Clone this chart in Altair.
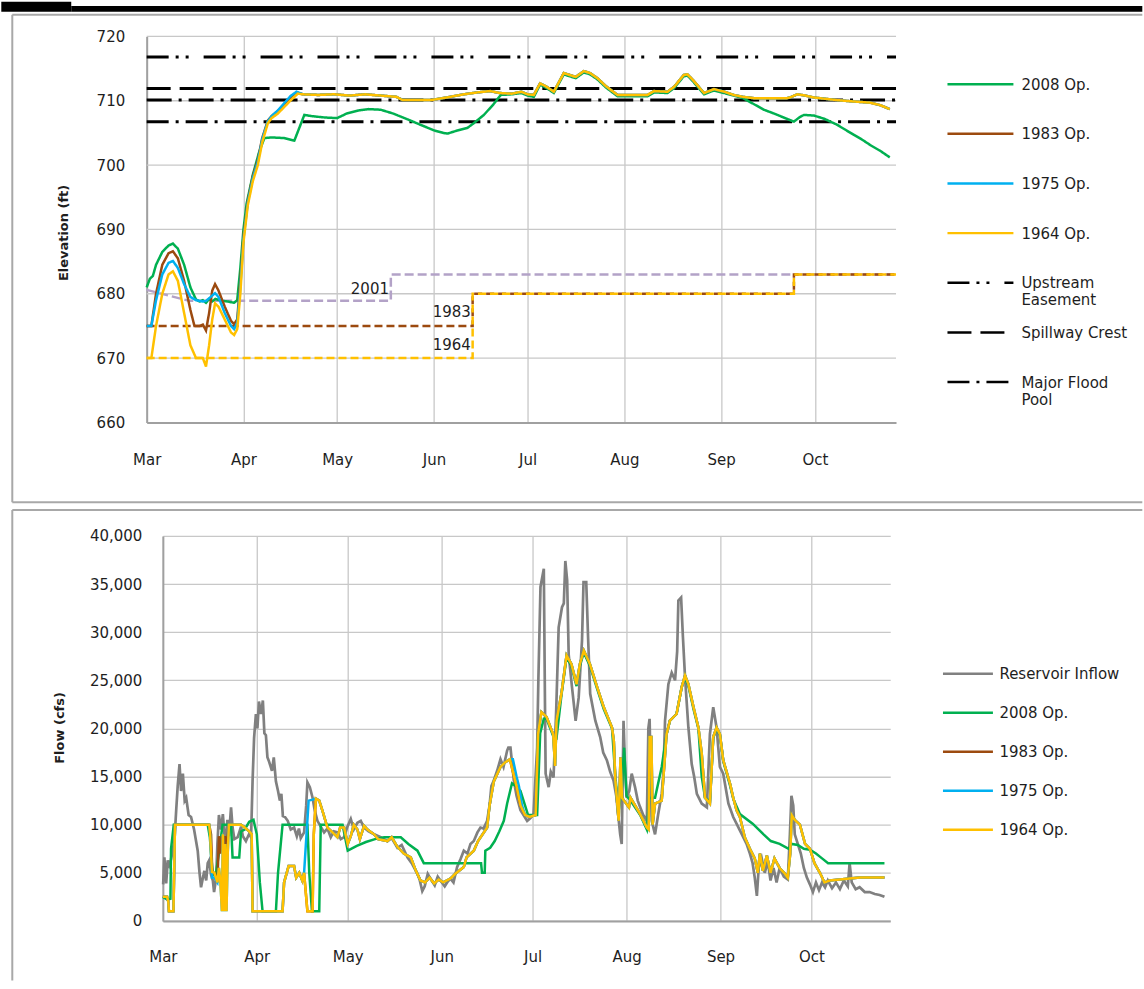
import json
import altair as alt
import pandas as pd

FONT = "DejaVu Sans"
TEXT = "#1e1e1e"
GRID = "#c8c8c8"
DOMAIN = "#a0a0a0"
BOX = "#a8a8a8"

MONTH_DAYS = [0, 31, 61, 92, 122, 153, 184, 214]
MONTH_NAMES = ["Mar", "Apr", "May", "Jun", "Jul", "Aug", "Sep", "Oct"]
DAY_DOMAIN = [0, 240]
ELEV_TICKS = [660, 670, 680, 690, 700, 710, 720]
FLOW_TICKS = [0, 5000, 10000, 15000, 20000, 25000, 30000, 35000, 40000]

# ---------------- top panel: elevation ----------------
TOP_SERIES = ["2008 Op.", "1983 Op.", "1975 Op.", "1964 Op.",
              "Upstream Easement", "Spillway Crest", "Major Flood Pool"]
TOP_COLORS = ["#00b050", "#9c4a0f", "#00b0f0", "#ffc000", "#000000", "#000000", "#000000"]
TOP_DASHES = [[1, 0], [1, 0], [1, 0], [1, 0], [22, 7, 3, 7, 3, 15], [24, 9], [22, 7, 3, 7]]
REF_LEVELS = [("Upstream Easement", 716.8), ("Spillway Crest", 711.9), ("Major Flood Pool", 706.75)]
EXTRA_LEVEL = 710.1

ELEV_2008 = [(0, 681.0), (1, 682.3), (2, 682.8), (3, 684.5), (5, 686.5), (7, 687.5), (8.4, 687.8),
             (10, 687.0), (12, 684.5), (14, 681.0), (15.8, 679.1), (17, 678.8), (18, 679.0), (19, 678.6),
             (20, 679.2), (21, 678.8), (22, 679.2), (24, 678.9), (26, 678.8), (28, 678.6), (29, 679.0),
             (30, 684.0), (31, 690.0), (32, 694.0), (34, 698.5), (36, 702.0), (37.7, 704.2), (40, 704.3),
             (44, 704.2), (47.3, 703.8), (50.5, 707.8), (53, 707.6), (57, 707.4), (61, 707.3), (64, 708.0),
             (68, 708.5), (71, 708.7), (75, 708.6), (79, 708.0), (83.6, 707.1), (88, 706.2), (92, 705.4),
             (95, 705.0), (96.4, 704.9), (99, 705.3), (102.8, 705.8), (105, 706.6), (108, 707.8),
             (111, 709.4), (113.4, 710.9), (117, 711.0), (120, 711.2), (122, 710.8), (124, 710.6),
             (126, 712.5), (128, 712.0), (130.4, 711.2), (133.6, 714.1), (135.5, 713.8), (137.4, 713.5),
             (140, 714.4), (142, 714.1), (144.4, 713.3), (147, 712.1), (150.8, 710.7), (155, 710.7),
             (160.4, 710.7), (162.5, 711.3), (166.8, 711.2), (169, 712.0), (172, 713.8), (173.2, 713.9),
             (175, 713.0), (178.5, 711.0), (181.7, 711.6), (185, 711.2), (188, 710.8), (191, 710.4),
             (194, 709.6), (197.7, 708.6), (201, 708.0), (204, 707.4), (207.3, 706.75), (209, 707.4),
             (210.5, 707.8), (213.7, 707.7), (217, 707.2), (221, 706.3), (226.5, 704.7), (229, 704.0),
             (231.8, 703.1), (235, 702.2), (238, 701.2)]

ELEV_1964 = [(0, 670), (1.5, 670), (3, 675), (5, 680), (7, 683), (8.4, 683.5), (10, 682), (12, 677),
             (14, 672), (15.8, 670), (18, 670), (19, 668.7), (20, 672), (21, 676), (21.9, 678.5),
             (23, 678), (25, 676), (27, 674), (28, 673.6), (29, 674.5), (30, 680), (31, 688),
             (32.4, 693.8), (34, 697.5), (35.6, 700), (37, 703.5), (38.8, 706.5), (40, 707.3), (42, 708),
             (44, 709), (46, 710), (48.4, 711.1), (50, 711), (55, 710.9), (60, 711), (65, 710.8),
             (70, 711), (75, 710.8), (80, 710.6), (82, 710.1), (91, 710.1), (96, 710.5), (101.6, 711),
             (106, 711.3), (110, 711.5), (113, 711.2), (117, 711.1), (120, 711.4), (122, 711),
             (124, 710.9), (126, 712.7), (128, 712.2), (130.4, 711.4), (133.6, 714.3), (135.5, 714),
             (137.4, 713.7), (140, 714.6), (142, 714.3), (144.4, 713.5), (147, 712.3), (150.8, 710.9),
             (155, 710.9), (160.4, 710.9), (162.5, 711.5), (166.8, 711.4), (169, 712.2), (172, 714),
             (173.2, 714.1), (175, 713.2), (178.5, 711.2), (181.7, 711.8), (185, 711.4), (188, 710.9),
             (191, 710.6), (194.5, 710.4), (205, 710.4), (206, 710.5), (208.4, 711), (211, 710.8),
             (213.7, 710.5), (221, 710.1), (226, 709.9), (231.8, 709.7), (235, 709.3), (238, 708.7)]

ELEV_1983_EARLY = [(0, 675), (1.5, 675), (3, 680), (5, 684.5), (7, 686.3), (8.4, 686.6), (10, 685.5),
                   (12, 682), (14, 677.5), (15.3, 675), (17, 675), (18, 675.2), (19, 674.3), (20, 677),
                   (21, 680.5), (21.9, 681.5), (23, 680.5), (25, 678), (27, 675.8), (28, 675.3),
                   (29, 676), (30, 682), (31, 689), (32.4, 694.5), (34, 698.3), (35.6, 700.8), (37, 704.2),
                   (38.8, 706.9), (40, 707.6), (42, 708.4), (44, 709.4), (46, 710.5), (48, 711.3)]

ELEV_1975_EARLY = [(0, 675), (1.5, 675), (3, 679), (5, 683), (7, 684.8), (8.4, 685.1), (10, 684),
                   (12, 681.5), (14, 679.5), (15.8, 679), (18, 678.8), (19, 678.9), (20, 679.3),
                   (21.9, 680.1), (23, 679.5), (25, 677), (27, 675), (28, 674.5), (29, 675.5), (30, 681),
                   (31, 688.5), (32.4, 694.2), (34, 698), (35.6, 700.5), (37, 704), (38.8, 706.8),
                   (40, 707.6), (42, 708.5), (44, 709.6), (46, 710.7), (48, 711.4)]

# the 1983 and 1975 runs lie under the 1964 run from mid April on
ELEV_1983 = ELEV_1983_EARLY + [p for p in ELEV_1964 if p[0] >= 50]
ELEV_1975 = ELEV_1975_EARLY + [p for p in ELEV_1964 if p[0] >= 50]

GUIDE_2001 = [(0, 680.6), (13.6, 678.9), (78.2, 678.9), (78.2, 683.0), (240, 683.0)]
GUIDE_1983 = [(0, 675), (104.4, 675), (104.4, 680), (207.3, 680), (207.3, 683), (240, 683)]
GUIDE_1964 = [(0, 670), (104.4, 670), (104.4, 680), (207.3, 680), (207.3, 683), (240, 683)]
GUIDE_LABELS = [("2001", 77.6, 680.8), ("1983", 103.8, 677.1), ("1964", 103.8, 672.0)]

# ---------------- bottom panel: flow ----------------
BOT_SERIES = ["Reservoir Inflow", "2008 Op.", "1983 Op.", "1975 Op.", "1964 Op."]
BOT_COLORS = ["#808080", "#00b050", "#9c4a0f", "#00b0f0", "#ffc000"]

FLOW_INFLOW = [(0.1, 3800), (0.5, 6600), (1.1, 3900), (1.6, 6300), (2.1, 5800), (2.7, 6400), (3.8, 8300),
               (4.4, 11500), (4.9, 14000), (5.5, 16300), (6.0, 13500), (6.6, 15300), (7.2, 12500),
               (7.7, 12800), (8.5, 11000), (9.3, 10800), (10.3, 9500), (11.5, 7300), (12.1, 5000),
               (12.6, 3500), (13.1, 4300), (13.7, 5200), (14.3, 4200), (14.8, 6000), (15.3, 6300),
               (15.9, 4800), (16.5, 4200), (16.9, 3000), (17.6, 4500), (18.0, 8000), (18.5, 11000),
               (19.2, 9500), (19.8, 11100), (20.3, 9000), (20.8, 8300), (21.3, 10500), (21.8, 8800),
               (22.5, 11800), (23.0, 9700), (23.6, 8500), (24.7, 8700), (25.8, 9800), (26.4, 8800),
               (27.4, 8300), (28.4, 9000), (29.1, 8700), (29.6, 14500), (30.1, 19000), (30.7, 21500),
               (31.2, 20000), (31.7, 22800), (32.4, 21500), (33.0, 22900), (33.5, 19500), (34.0, 19300),
               (34.5, 17000), (35.0, 16600), (36.0, 15600), (36.6, 17000), (37.3, 14500), (38.0, 13500),
               (38.6, 12500), (39.1, 13200), (39.6, 10900), (40.3, 10800), (41.2, 10400), (42.2, 9500),
               (43.3, 9700), (44.2, 8800), (44.9, 9600), (45.5, 8600), (46.6, 9200), (47.3, 12000),
               (47.7, 14400), (48.5, 13900), (49.4, 12800), (50.1, 11500), (51.0, 10400), (52.1, 9800),
               (53.2, 9200), (54.3, 9600), (55.4, 8700), (56.4, 9300), (57.6, 9200), (58.7, 8500),
               (59.8, 8700), (60.9, 9800), (62.0, 10600), (63.0, 9500), (64.2, 10200), (65.3, 10400),
               (66.4, 9700), (67.9, 9300), (69.7, 9000), (71.9, 8700), (74.1, 8300), (75.5, 8600),
               (77.4, 7600), (78.8, 7900), (80.7, 6600), (82.1, 6000), (84.0, 4900), (84.7, 4300),
               (85.6, 3100), (86.4, 3600), (87.4, 4900), (88.3, 4400), (89.7, 3700), (90.7, 4600),
               (91.6, 4200), (93.0, 3600), (94.0, 4100), (94.9, 4400), (95.9, 4000), (97.1, 5600),
               (98.2, 6400), (99.3, 7300), (100.5, 7000), (101.5, 8000), (102.6, 8300), (103.8, 9200),
               (104.8, 9700), (105.8, 9600), (107.0, 10400), (107.8, 12000), (108.4, 14000),
               (109.2, 14600), (110.3, 15600), (111.4, 16800), (112.4, 16000), (113.6, 17700),
               (114.0, 18000), (114.7, 18000), (115.8, 14600), (116.7, 13000), (118.0, 11500),
               (119.0, 11000), (120.2, 10400), (121.3, 10700), (122.3, 11100), (123.5, 18000),
               (123.9, 25000), (124.6, 34700), (125.7, 36600), (126.1, 22000), (126.3, 15300),
               (127.3, 13900), (128.0, 15500), (128.9, 14900), (129.8, 22000), (130.6, 30500),
               (131.7, 32600), (132.3, 33000), (132.8, 37400), (133.4, 35400), (133.9, 27700),
               (135.0, 24300), (136.2, 20800), (137.2, 23200), (138.3, 29100), (138.8, 35200),
               (139.7, 35200), (140.3, 29500), (141.0, 23600), (142.7, 20800), (144.3, 19100),
               (145.3, 17500), (146.5, 16700), (147.6, 15500), (148.7, 14600), (149.6, 13000),
               (150.3, 10800), (150.9, 9000), (151.4, 8000), (152.0, 20800), (152.5, 16000),
               (153.0, 12800), (153.9, 13500), (154.7, 15300), (155.8, 13900), (156.7, 12500),
               (157.5, 11800), (158.5, 11000), (159.7, 10400), (160.2, 20000), (160.6, 21000),
               (161.3, 10400), (162.4, 9000), (163.4, 11000), (164.6, 13200), (165.2, 15500),
               (165.7, 20800), (166.8, 24600), (167.9, 25800), (169.0, 25000), (169.7, 28000),
               (170.1, 33300), (171.0, 33600), (171.6, 29500), (172.3, 25300), (173.4, 20100),
               (174.5, 16300), (175.3, 15000), (176.2, 13200), (177.8, 12200), (179.5, 11800),
               (180.5, 19400), (181.6, 22200), (182.7, 20100), (183.8, 16000), (184.9, 15300),
               (186.6, 12200), (188.2, 10800), (190.4, 9400), (192.6, 8000), (193.7, 7000), (194.6, 6000),
               (195.3, 4500), (196.0, 2600), (196.6, 5500), (197.6, 6500), (198.6, 5000), (199.6, 6200),
               (200.5, 4200), (201.5, 5500), (202.5, 4000), (203.5, 5500), (204.9, 4600), (206.2, 4300),
               (206.9, 9000), (207.4, 13000), (208.0, 12000), (208.5, 9000), (209.5, 8000), (210.5, 7000),
               (211.5, 5500), (212.5, 4500), (213.5, 3800), (214.5, 3000), (215.5, 4000), (216.5, 3200),
               (217.5, 4000), (218.5, 3500), (219.4, 4200), (220.8, 3400), (222.1, 4000), (223.4, 3300),
               (224.7, 4200), (226.0, 3600), (226.6, 6000), (227.3, 4000), (228.6, 3300), (229.9, 3500),
               (231.6, 3000), (233.2, 3000), (234.9, 2800), (236.5, 2700), (238.1, 2500)]

FLOW_2008 = [(0, 2500), (1.5, 2200), (2.5, 2300), (2.7, 7500), (3.6, 10000), (14.8, 10000), (15.5, 8700),
             (16.0, 6600), (16.5, 4800), (17.5, 4900), (18.5, 7000), (19.7, 10000), (22.5, 10000),
             (23.0, 6600), (25.2, 6600), (25.8, 9300), (27, 9500), (28.5, 10300), (29.9, 10500),
             (31, 9000), (32.0, 4000), (32.9, 1000), (37.3, 1000), (38, 5000), (39.5, 10000),
             (47.7, 10000), (48.3, 5000), (49.2, 1000), (51.6, 1000), (52.1, 10000), (59.3, 10000),
             (61.0, 7300), (64, 7800), (67, 8200), (70, 8500), (73, 8700), (78.5, 8700), (81, 8000),
             (84, 7300), (86.1, 6000), (105, 6000), (105.3, 5000), (106.2, 5000), (106.4, 7300),
             (108, 7600), (109.5, 8300), (111, 9300), (112.5, 10400), (113.6, 12200), (115.2, 14300),
             (116.5, 14000), (118, 13500), (119.5, 12000), (120.5, 11000), (123.5, 11000),
             (124.5, 19500), (125.7, 21000), (126.6, 21000), (128.8, 19200), (129.9, 19000),
             (131.5, 23400), (133.2, 27400), (134.8, 26500), (136.5, 24400), (137.6, 26500),
             (138.9, 27900), (140.9, 26500), (143.3, 24100), (145.5, 22000), (148.2, 20000),
             (149.3, 15000), (150.4, 11500), (151.5, 14000), (152.2, 18000), (153.0, 13000),
             (154.3, 12500), (157.5, 11000), (159.7, 9500), (160.5, 12800), (162.4, 12800),
             (164.6, 16000), (166.2, 19400), (167.3, 20800), (169.5, 21500), (171.2, 24300),
             (172.3, 25300), (173.4, 24400), (175.1, 22000), (176.7, 20000), (177.8, 15000),
             (178.9, 12800), (180.5, 12400), (181.6, 19000), (182.7, 20000), (183.8, 19300),
             (184.9, 16600), (187.2, 14000), (188.2, 12700), (190.4, 11100), (194.6, 10100),
             (198.2, 9000), (200.6, 8300), (203.5, 8000), (206.5, 7500), (207.5, 8000), (209.5, 7900),
             (211.5, 7500), (213.5, 7400), (215.5, 7000), (217.5, 6500), (219.5, 6000), (238.1, 6000)]

FLOW_1964 = [(0, 2500), (1.4, 2500), (1.8, 2000), (2.0, 1000), (3.5, 1000), (4.0, 10000), (15.3, 10000),
             (15.6, 9000), (16.2, 5100), (17.0, 5000), (18.0, 4000), (18.5, 5500), (19.0, 4000),
             (19.5, 1000), (19.8, 9000), (20.2, 1000), (20.6, 8000), (21.0, 1000), (21.4, 7000),
             (21.8, 10000), (25.8, 10000), (27, 9700), (28.5, 9300), (29.3, 9000), (29.6, 1000),
             (39.5, 1000), (40.0, 4000), (41.5, 5700), (43.3, 5700), (44, 4500), (45, 5000), (46, 4200),
             (46.6, 5000), (47.7, 1000), (49.4, 1000), (49.8, 9000), (50.5, 12700), (51.6, 12500),
             (52.7, 11400), (54.3, 9700), (56, 9200), (57.6, 8700), (58.5, 9700), (59.8, 9700),
             (61.0, 8000), (62, 8800), (63, 10000), (64.2, 9500), (65, 8500), (66.4, 9900), (67.5, 9500),
             (69.7, 9000), (71, 8500), (74.1, 8300), (75.5, 8700), (77.4, 7700), (79.5, 7000),
             (81.8, 6600), (83.5, 5200), (85.0, 4200), (86.5, 4000), (88, 4500), (89.5, 3900),
             (91, 4300), (92.5, 4000), (94.9, 4400), (96.5, 4900), (99.3, 5600), (100.2, 6600),
             (102.6, 7300), (104, 8300), (107, 9700), (107.8, 12000), (109.2, 14500), (111.4, 16000),
             (113, 16500), (114.5, 16800), (115.5, 15500), (116.7, 14000), (118.0, 12000),
             (119.5, 11000), (121, 10800), (123.0, 11000), (123.8, 19400), (124.9, 21700),
             (126.6, 21200), (128.8, 19400), (129.4, 16100), (129.9, 20800), (131.5, 23600),
             (133.2, 27600), (134.8, 26700), (136.5, 24600), (137.6, 26700), (138.9, 28100),
             (140.9, 26700), (143.3, 24300), (145.5, 22200), (148.2, 20100), (148.8, 18700),
             (149.3, 14600), (150.4, 10400), (151.0, 17000), (151.5, 12800), (153.8, 11800),
             (154.3, 12800), (157.5, 11100), (159.7, 9700), (160.3, 9500), (160.6, 19100),
             (161.2, 19100), (161.6, 10000), (162.4, 12200), (164.6, 12500), (166.2, 19400),
             (167.3, 20800), (169.5, 21500), (171.2, 24300), (172.3, 25500), (173.4, 24600),
             (175.1, 22200), (176.7, 20100), (177.8, 17400), (178.9, 12800), (180.5, 12200),
             (181.6, 19100), (182.7, 20100), (183.8, 19400), (184.9, 16700), (187.2, 14200),
             (188.2, 12800), (189.3, 11500), (190.4, 10800), (192.0, 8700), (193.7, 7500),
             (195.3, 6500), (196.3, 5000), (197.0, 7000), (198.0, 5200), (199.3, 6800), (200.5, 5000),
             (201.8, 6500), (203.5, 5500), (205.0, 5000), (206.2, 4500), (207.0, 7000), (207.5, 11000),
             (208.5, 10500), (210.2, 10000), (211.9, 8000), (213.5, 7500), (215.0, 6000), (216.8, 5000),
             (218.3, 4000), (220, 4200), (223.4, 4300), (226.6, 4400), (230, 4500), (238.1, 4500)]

FLOW_1983_EARLY = [(0, 2500), (1.4, 2500), (1.8, 2000), (2.0, 1000), (3.5, 1000), (4.0, 10000),
                   (15.3, 10000), (15.9, 9000), (16.3, 5100), (17.0, 5000), (18.0, 4000), (18.5, 8800),
                   (19.0, 7000), (19.5, 8800), (20.0, 7000), (20.5, 8800), (21.0, 7000), (21.4, 8800),
                   (21.8, 10000), (25.8, 10000), (26.8, 9800)]
FLOW_1975_MID1 = [(16.2, 4500), (17.0, 4500)]
FLOW_1975_MID2 = [(47.4, 9000), (48.1, 12500), (49.4, 12600)]
FLOW_1975_MID3 = [(114.5, 16800), (115.5, 16800), (116.7, 15000), (117.5, 14000), (118.5, 12000)]

# the 1983 and 1975 runs coincide with the 1964 run wherever they are not visible
FLOW_1983 = FLOW_1983_EARLY + [p for p in FLOW_1964 if p[0] >= 27]
FLOW_1975 = ([p for p in FLOW_1964 if p[0] < 16.2] + FLOW_1975_MID1
             + [p for p in FLOW_1964 if 18.0 <= p[0] <= 46.6] + FLOW_1975_MID2
             + [p for p in FLOW_1964 if 50.5 <= p[0] < 114.5] + FLOW_1975_MID3
             + [p for p in FLOW_1964 if p[0] >= 119.5])


def frame(pairs, name=None):
    df = pd.DataFrame(pairs, columns=["day", "value"])
    if name is not None:
        df["series"] = name
    return df


MONTH_EXPR = f"{json.dumps(MONTH_NAMES)}[indexof({json.dumps(MONTH_DAYS)}, datum.value)]"
ONE = pd.DataFrame({"k": [0]})


def x_axis(pad):
    return alt.Axis(values=MONTH_DAYS, labelExpr=MONTH_EXPR, title=None, grid=True,
                    labelPadding=pad, labelFlush=False, ticks=False, tickSize=0,
                    domainColor=DOMAIN, domainWidth=2)


# Both panels share one group origin (the concat aligns them); the top panel's plot
# starts SHIFT px further left, handled with its x range and a y-axis offset.
OX, OY1 = 161.7, 34.7          # common origin (page x) and top-panel origin (page y)
SHIFT = 16.2
W1, H1 = 733.8, 386.4

top_x = alt.X("day:Q", scale=alt.Scale(domain=DAY_DOMAIN, nice=False, zero=False, range=[-SHIFT, W1]),
              axis=x_axis(30))
top_y = alt.Y("value:Q", scale=alt.Scale(domain=[660, 720], nice=False, zero=False),
              axis=alt.Axis(values=ELEV_TICKS, title="Elevation (ft)", titleAngle=270,
                            titleX=-83.5, titleY=H1 / 2 + 3, titleBaseline="middle",
                            titleAlign="center", labelPadding=22, grid=False, ticks=False,
                            tickSize=0, domainColor=DOMAIN, domainWidth=2, labelFlush=False,
                            offset=SHIFT))

TOP_LABEL_EXPR = ("datum.label == 'Upstream Easement' ? ['Upstream', 'Easement'] : "
                  "datum.label == 'Major Flood Pool' ? ['Major Flood', 'Pool'] : [datum.label, '']")
top_legend = alt.Legend(title=None, orient="none", legendX=789.3, legendY=24.3,
                        symbolType="M-1.2,-0.2L1.2,-0.2", symbolSize=3025, symbolStrokeWidth=2.5,
                        labelOffset=12, labelBaseline="alphabetic", labelExpr=TOP_LABEL_EXPR,
                        rowPadding=0.7, labelLimit=220, padding=0)
top_color = alt.Color("series:N", scale=alt.Scale(domain=TOP_SERIES, range=TOP_COLORS), legend=top_legend)
top_dash = alt.StrokeDash("series:N", scale=alt.Scale(domain=TOP_SERIES, range=TOP_DASHES), legend=top_legend)

top_layers = []
# horizontal gridlines of the top panel
grid_df = pd.DataFrame({"value": ELEV_TICKS[1:]})
top_layers.append(alt.Chart(grid_df).mark_rule(color=GRID, strokeWidth=1.3).encode(
    y=top_y, x=alt.value(-SHIFT), x2=alt.value(W1)))

for pairs, col, dash in [(GUIDE_2001, "#b3a2c7", [9, 4]), (GUIDE_1983, "#9c4a0f", [8, 4]),
                         (GUIDE_1964, "#ffc000", [8, 4])]:
    top_layers.append(alt.Chart(frame(pairs)).mark_line(strokeWidth=2.5).encode(
        x=top_x, y=top_y, color=alt.value(col), strokeDash=alt.value(dash)))

top_layers.append(alt.Chart(frame([(0, EXTRA_LEVEL), (240, EXTRA_LEVEL)])).mark_line(strokeWidth=3).encode(
    x=top_x, y=top_y, color=alt.value("#000000"), strokeDash=alt.value([25, 7, 3, 7])))

ref_df = pd.concat([frame([(0, v), (240, v)], n) for n, v in REF_LEVELS])
top_layers.append(alt.Chart(ref_df).mark_line(strokeWidth=3).encode(
    x=top_x, y=top_y, color=top_color, strokeDash=top_dash, detail="series:N"))

for name, pairs in [("2008 Op.", ELEV_2008), ("1983 Op.", ELEV_1983),
                    ("1975 Op.", ELEV_1975), ("1964 Op.", ELEV_1964)]:
    top_layers.append(alt.Chart(frame(pairs, name)).mark_line(strokeWidth=2.5).encode(
        x=top_x, y=top_y, color=top_color, strokeDash=top_dash))

lab_df = pd.DataFrame(GUIDE_LABELS, columns=["text", "day", "value"])
top_layers.append(alt.Chart(lab_df).mark_text(align="right", baseline="middle", font=FONT,
                                              fontSize=15, color=TEXT).encode(
    x=top_x, y=top_y, text="text:N"))

# frame decorations of the top panel (pixel offsets from the group origin)
top_layers.append(alt.Chart(ONE).mark_rect(color="#000000").encode(
    x=alt.value(-OX), x2=alt.value(-OX + 70), y=alt.value(-OY1), y2=alt.value(-OY1 + 10)))
top_layers.append(alt.Chart(ONE).mark_rect(color="#000000").encode(
    x=alt.value(-OX + 70), x2=alt.value(1142 - OX), y=alt.value(-OY1 + 4.3), y2=alt.value(-OY1 + 10)))
for xa, xb, ya, yb in [(11 - OX, 1142 - OX, 13 - OY1, 13 - OY1),
                       (11 - OX, 11 - OX, 13 - OY1, 501 - OY1),
                       (11 - OX, 1142 - OX, 501 - OY1, 501 - OY1)]:
    top_layers.append(alt.Chart(ONE).mark_rule(color=BOX, strokeWidth=2).encode(
        x=alt.value(xa), x2=alt.value(xb), y=alt.value(ya), y2=alt.value(yb)))

top = alt.layer(*top_layers).properties(width=W1, height=H1)

# ---------- bottom chart ----------
W2, H2 = 728, 385.3
OY2 = 535

bot_x = alt.X("day:Q", scale=alt.Scale(domain=DAY_DOMAIN, nice=False, zero=False), axis=x_axis(29))
bot_y = alt.Y("value:Q", scale=alt.Scale(domain=[0, 40000], nice=False),
              axis=alt.Axis(values=FLOW_TICKS, format=",d", title="Flow (cfs)", titleAngle=270,
                            titleX=-103.7, titleY=H2 / 2 - 1, titleBaseline="middle",
                            titleAlign="center", labelPadding=21, grid=True, ticks=False,
                            tickSize=0, domainColor=DOMAIN, domainWidth=2, labelFlush=False))
bot_legend = alt.Legend(title=None, orient="none", legendX=779.3, legendY=111.5,
                        symbolType="stroke", symbolSize=2500, symbolStrokeWidth=2.5,
                        labelOffset=5, rowPadding=4, labelLimit=220, padding=0)
bot_color = alt.Color("fseries:N", scale=alt.Scale(domain=BOT_SERIES, range=BOT_COLORS), legend=bot_legend)

bot_layers = []
for name, pairs in [("Reservoir Inflow", FLOW_INFLOW), ("2008 Op.", FLOW_2008), ("1983 Op.", FLOW_1983),
                    ("1975 Op.", FLOW_1975), ("1964 Op.", FLOW_1964)]:
    df = frame(pairs).assign(fseries=name)
    bot_layers.append(alt.Chart(df).mark_line(strokeWidth=2.7 if name == "Reservoir Inflow" else 2.5).encode(
        x=bot_x, y=bot_y, color=bot_color))

for xa, xb, ya, yb in [(11 - OX, 1142 - OX, 509 - OY2, 509 - OY2),
                       (11 - OX, 11 - OX, 509 - OY2, 980 - OY2)]:
    bot_layers.append(alt.Chart(ONE).mark_rule(color=BOX, strokeWidth=2).encode(
        x=alt.value(xa), x2=alt.value(xb), y=alt.value(ya), y2=alt.value(yb)))

bottom = alt.layer(*bot_layers).properties(width=W2, height=H2)

chart = (alt.vconcat(top, bottom, spacing=4)
         .resolve_scale(x="independent", y="independent", color="independent", strokeDash="independent")
         .properties(padding=0, background="white")
         .configure_axis(labelFont=FONT, labelFontSize=15, labelColor=TEXT, titleFont=FONT,
                         titleFontSize=13, titleFontWeight="bold", titleColor=TEXT,
                         gridColor=GRID, gridWidth=1.3)
         .configure_legend(labelFont=FONT, labelFontSize=15, labelColor=TEXT)
         .configure_view(stroke="transparent"))

chart.save("out.html", embed_options={"renderer": "svg", "actions": False})
